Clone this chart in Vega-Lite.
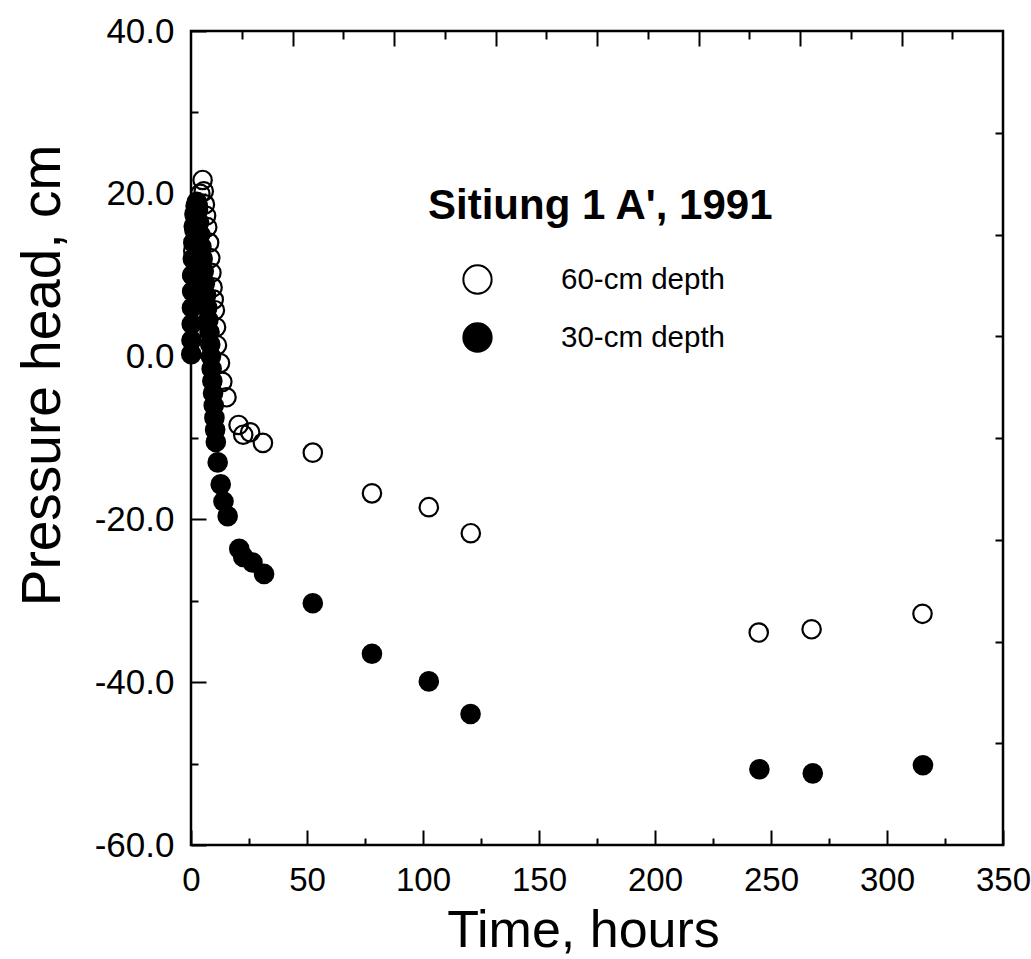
{
  "$schema": "https://vega.github.io/schema/vega-lite/v6.json",
  "width": 812,
  "height": 814,
  "autosize": {"type": "none"},
  "padding": {"left": 191, "top": 31, "right": 28, "bottom": 114},
  "background": "white",
  "config": {
    "font": "Liberation Sans",
    "view": {"stroke": "black", "strokeWidth": 2.5},
    "axis": {"grid": false, "domain": false, "tickColor": "black", "tickWidth": 2, "labelColor": "black", "titleColor": "black"}
  },
  "data": {"values": [
    {"t": 0.1, "h": 0.3, "depth": "30-cm depth"},
    {"t": 0.2, "h": 2, "depth": "30-cm depth"},
    {"t": 0.3, "h": 4, "depth": "30-cm depth"},
    {"t": 0.4, "h": 6, "depth": "30-cm depth"},
    {"t": 0.5, "h": 8, "depth": "30-cm depth"},
    {"t": 0.6, "h": 10, "depth": "30-cm depth"},
    {"t": 0.8, "h": 12, "depth": "30-cm depth"},
    {"t": 1.0, "h": 14, "depth": "30-cm depth"},
    {"t": 1.2, "h": 16, "depth": "30-cm depth"},
    {"t": 1.5, "h": 17.5, "depth": "30-cm depth"},
    {"t": 2.0, "h": 18.5, "depth": "30-cm depth"},
    {"t": 2.5, "h": 19, "depth": "30-cm depth"},
    {"t": 3.0, "h": 18, "depth": "30-cm depth"},
    {"t": 3.5, "h": 16.5, "depth": "30-cm depth"},
    {"t": 4.0, "h": 15, "depth": "30-cm depth"},
    {"t": 4.5, "h": 13.5, "depth": "30-cm depth"},
    {"t": 5.0, "h": 12, "depth": "30-cm depth"},
    {"t": 5.5, "h": 10.5, "depth": "30-cm depth"},
    {"t": 6.0, "h": 9, "depth": "30-cm depth"},
    {"t": 6.5, "h": 7.5, "depth": "30-cm depth"},
    {"t": 7.0, "h": 6, "depth": "30-cm depth"},
    {"t": 7.5, "h": 4.5, "depth": "30-cm depth"},
    {"t": 8.0, "h": 3, "depth": "30-cm depth"},
    {"t": 8.3, "h": 1.5, "depth": "30-cm depth"},
    {"t": 8.6, "h": 0, "depth": "30-cm depth"},
    {"t": 8.9, "h": -1.5, "depth": "30-cm depth"},
    {"t": 9.2, "h": -3, "depth": "30-cm depth"},
    {"t": 9.5, "h": -4.5, "depth": "30-cm depth"},
    {"t": 9.8, "h": -6, "depth": "30-cm depth"},
    {"t": 10.1, "h": -7.5, "depth": "30-cm depth"},
    {"t": 10.4, "h": -9, "depth": "30-cm depth"},
    {"t": 10.7, "h": -10.5, "depth": "30-cm depth"},
    {"t": 11.5, "h": -13, "depth": "30-cm depth"},
    {"t": 12.8, "h": -15.7, "depth": "30-cm depth"},
    {"t": 14.0, "h": -17.8, "depth": "30-cm depth"},
    {"t": 15.8, "h": -19.6, "depth": "30-cm depth"},
    {"t": 20.8, "h": -23.6, "depth": "30-cm depth"},
    {"t": 22.5, "h": -24.6, "depth": "30-cm depth"},
    {"t": 26.5, "h": -25.3, "depth": "30-cm depth"},
    {"t": 31.5, "h": -26.7, "depth": "30-cm depth"},
    {"t": 52.5, "h": -30.3, "depth": "30-cm depth"},
    {"t": 78.0, "h": -36.5, "depth": "30-cm depth"},
    {"t": 102.5, "h": -39.9, "depth": "30-cm depth"},
    {"t": 120.5, "h": -43.9, "depth": "30-cm depth"},
    {"t": 245.0, "h": -50.7, "depth": "30-cm depth"},
    {"t": 268.0, "h": -51.2, "depth": "30-cm depth"},
    {"t": 315.5, "h": -50.2, "depth": "30-cm depth"},
    {"t": 0.5, "h": 10, "depth": "60-cm depth"},
    {"t": 1, "h": 13, "depth": "60-cm depth"},
    {"t": 1.5, "h": 15.5, "depth": "60-cm depth"},
    {"t": 2, "h": 17, "depth": "60-cm depth"},
    {"t": 3, "h": 18.5, "depth": "60-cm depth"},
    {"t": 4, "h": 20, "depth": "60-cm depth"},
    {"t": 5, "h": 21.7, "depth": "60-cm depth"},
    {"t": 5.5, "h": 20.3, "depth": "60-cm depth"},
    {"t": 6, "h": 18.7, "depth": "60-cm depth"},
    {"t": 6.5, "h": 17.3, "depth": "60-cm depth"},
    {"t": 7, "h": 15.9, "depth": "60-cm depth"},
    {"t": 7.8, "h": 14, "depth": "60-cm depth"},
    {"t": 8.3, "h": 12.1, "depth": "60-cm depth"},
    {"t": 8.8, "h": 10.3, "depth": "60-cm depth"},
    {"t": 9.3, "h": 8.5, "depth": "60-cm depth"},
    {"t": 9.8, "h": 7, "depth": "60-cm depth"},
    {"t": 10.3, "h": 5.7, "depth": "60-cm depth"},
    {"t": 10.8, "h": 3.6, "depth": "60-cm depth"},
    {"t": 11.2, "h": 1.4, "depth": "60-cm depth"},
    {"t": 12.5, "h": -0.8, "depth": "60-cm depth"},
    {"t": 13.5, "h": -3.1, "depth": "60-cm depth"},
    {"t": 15.3, "h": -5, "depth": "60-cm depth"},
    {"t": 20.5, "h": -8.4, "depth": "60-cm depth"},
    {"t": 22.5, "h": -9.6, "depth": "60-cm depth"},
    {"t": 25.5, "h": -9.3, "depth": "60-cm depth"},
    {"t": 31, "h": -10.6, "depth": "60-cm depth"},
    {"t": 52.5, "h": -11.8, "depth": "60-cm depth"},
    {"t": 78, "h": -16.8, "depth": "60-cm depth"},
    {"t": 102.5, "h": -18.5, "depth": "60-cm depth"},
    {"t": 120.6, "h": -21.7, "depth": "60-cm depth"},
    {"t": 244.7, "h": -33.9, "depth": "60-cm depth"},
    {"t": 267.5, "h": -33.5, "depth": "60-cm depth"},
    {"t": 315.3, "h": -31.6, "depth": "60-cm depth"}
  ]},
  "layer": [
    {
      "mark": {"type": "circle", "size": 340, "stroke": "black", "strokeWidth": 2.2, "opacity": 1},
      "encoding": {
        "x": {"field": "t", "type": "quantitative",
          "scale": {"domain": [0, 350], "nice": false, "zero": false},
          "axis": {"orient": "bottom", "values": [0, 50, 100, 150, 200, 250, 300, 350], "format": "d",
            "tickSize": -15, "labelPadding": 34, "labelFontSize": 33, "labelBaseline": "top", "labelFlush": false,
            "title": "Time, hours", "titleFontSize": 52, "titleFontWeight": "normal",
            "titleX": 392, "titleY": 85, "titleBaseline": "middle", "titleAlign": "center"}},
        "y": {"field": "h", "type": "quantitative",
          "scale": {"domain": [-60, 40], "nice": false, "zero": false},
          "axis": {"orient": "left", "values": [-60, -40, -20, 0, 20, 40],
            "labelExpr": "(datum.value < 0 ? '-' : '') + format(abs(datum.value), '.1f')",
            "tickSize": -15, "labelPadding": 32, "labelFontSize": 35, "labelFlush": false,
            "title": "Pressure head, cm", "titleFontSize": 55, "titleFontWeight": "normal",
            "titleX": -149, "titleY": 344, "titleBaseline": "middle", "titleAlign": "center", "titleAngle": -90}},
        "fill": {"field": "depth", "type": "nominal",
          "scale": {"domain": ["60-cm depth", "30-cm depth"], "range": ["transparent", "black"]},
          "legend": {"orient": "none", "legendX": 237, "legendY": 155,
            "title": "Sitiung 1 A', 1991", "titleFontSize": 42, "titleFontWeight": "bold", "titleColor": "black", "titleLimit": 700,
            "labelFontSize": 29.5, "labelColor": "black", "labelLimit": 500,
            "symbolType": "circle", "symbolSize": 800, "symbolStrokeColor": "black", "symbolStrokeWidth": 2,
            "symbolOffset": 34, "labelOffset": 68, "rowPadding": 21, "titlePadding": 36, "padding": 0}}
      }
    },
    {
      "mark": {"type": "point", "opacity": 0},
      "encoding": {
        "x": {"field": "t", "type": "quantitative",
          "axis": {"orient": "bottom", "values": [25, 75, 125, 175, 225, 275, 325], "tickSize": -7, "labels": false, "title": null}},
        "y": {"field": "h", "type": "quantitative",
          "axis": {"orient": "left", "values": [-50, -30, -10, 10, 30], "tickSize": -7, "labels": false, "title": null}}
      }
    },
    {
      "mark": {"type": "point", "opacity": 0},
      "encoding": {
        "x": {"field": "t", "type": "quantitative",
          "axis": {"orient": "top", "values": [43.75, 87.5, 131.25, 175, 218.75, 262.5, 306.25], "tickSize": -15, "labels": false, "title": null}},
        "y": {"field": "h", "type": "quantitative",
          "axis": {"orient": "right", "values": [27.5, 15, 2.5, -10, -22.5, -35, -47.5], "tickSize": -8, "labels": false, "title": null}}
      }
    },
    {
      "mark": {"type": "point", "opacity": 0},
      "encoding": {
        "x": {"field": "t", "type": "quantitative",
          "axis": {"orient": "top", "values": [21.875, 65.625, 109.375, 153.125, 196.875, 240.625, 284.375, 328.125], "tickSize": -8, "labels": false, "title": null}},
        "y": {"field": "h", "type": "quantitative", "axis": null}
      }
    }
  ],
  "resolve": {"axis": {"x": "independent", "y": "independent"}}
}
